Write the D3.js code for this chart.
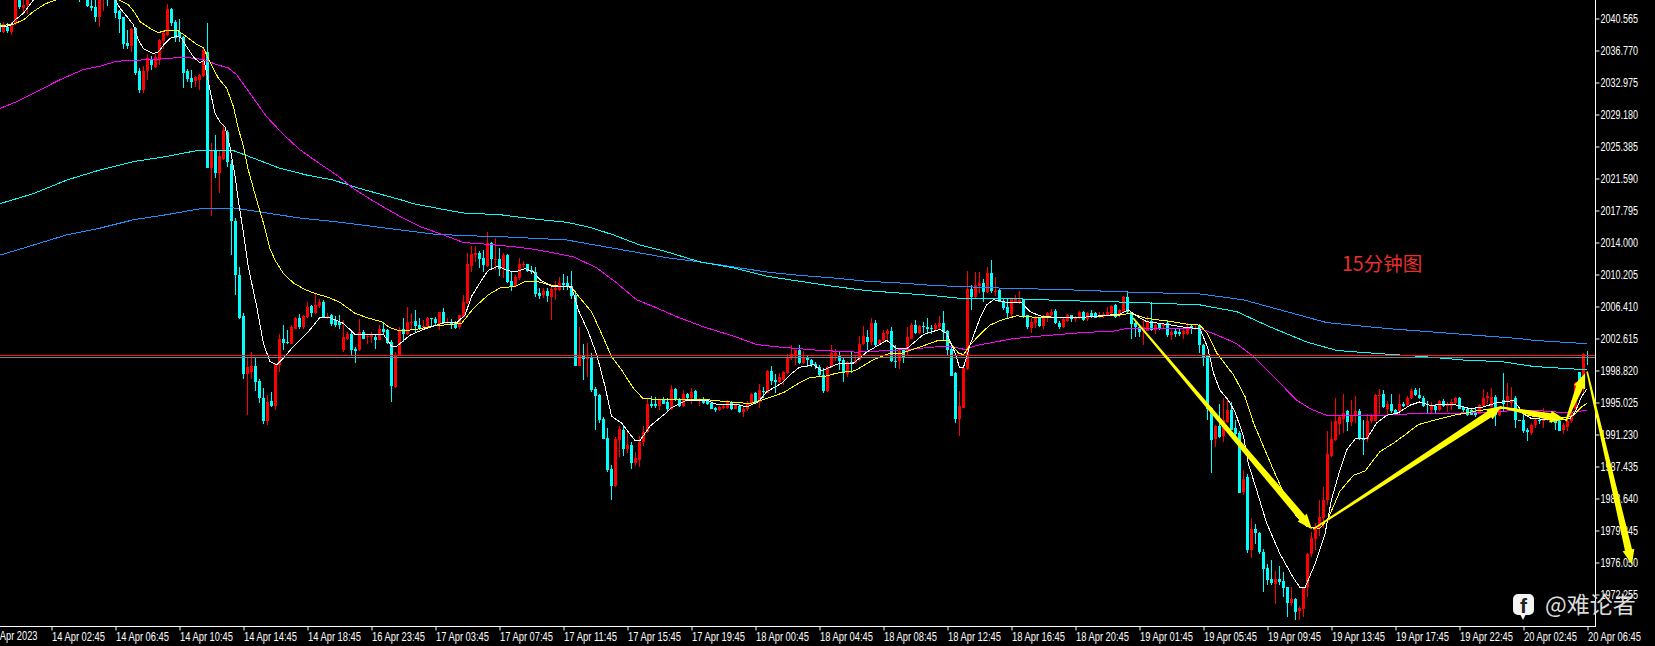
<!DOCTYPE html>
<html>
<head>
<meta charset="utf-8">
<style>
html,body{margin:0;padding:0;background:#000;overflow:hidden}
svg{display:block}
.tk text{font-family:"Liberation Sans",Arial,sans-serif;fill:#fff;font-size:12px}
</style>
<script src="https://cdn.jsdelivr.net/npm/d3@7/dist/d3.min.js"></script>
</head>
<body>
<svg id="c" width="1655" height="646"></svg>
<script>
// Each row: open, high, low, close (red = up, cyan = down)
const candlesA=[[2040.0,2040.2,2039.0,2039.0],[2039.0,2040.2,2038.9,2039.9],[2039.6,2040.0,2038.9,2039.1],[2039.0,2040.2,2038.6,2039.9],[2039.9,2043.5,2039.8,2043.4],[2043.4,2043.6,2041.7,2041.9],[2041.8,2043.0,2041.2,2042.2],[2042.2,2043.6,2041.1,2043.4],
[2043.4,2044.6,2043.2,2044.2],[2044.2,2045.4,2044.0,2045.0],[2045.0,2046.2,2044.8,2045.8],[2045.8,2046.6,2045.2,2045.4],[2045.4,2046.8,2045.2,2046.4],[2046.4,2047.0,2045.6,2045.8],[2045.8,2047.2,2045.6,2046.8],[2046.8,2047.4,2046.0,2046.2],[2046.2,2046.8,2045.2,2045.4],[2045.4,2045.8,2044.4,2044.6],[2044.6,2045.6,2044.2,2045.2],[2045.2,2045.6,2044.0,2044.2],
[2044.0,2044.5,2042.5,2043.0],[2043.6,2044.2,2043.2,2043.8],[2043.2,2043.6,2041.9,2042.0],[2042.1,2042.8,2041.5,2041.8],[2041.9,2042.9,2040.1,2040.8],[2040.8,2043.6,2039.6,2043.2],[2043.0,2044.0,2041.4,2043.6],[2043.4,2043.8,2042.0,2043.0],[2043.6,2044.0,2043.1,2043.2],[2043.0,2043.4,2040.6,2041.2],
[2041.4,2041.6,2038.9,2040.5],[2040.7,2040.8,2037.0,2037.5],[2037.7,2039.2,2037.0,2037.3],[2037.3,2039.4,2036.6,2039.3],[2039.4,2039.6,2033.9,2034.1],[2034.3,2034.7,2031.7,2032.1],[2032.1,2034.9,2031.7,2034.3],[2034.3,2036.4,2033.3,2035.9],[2035.7,2036.1,2034.5,2035.0],[2034.8,2036.3,2034.7,2036.0],
[2035.6,2038.1,2035.1,2038.0],[2037.9,2039.2,2036.9,2038.8],[2038.6,2042.3,2038.5,2041.7],[2041.7,2041.8,2039.7,2040.0],[2040.2,2040.4,2037.8,2038.3],[2039.0,2040.5,2037.8,2038.4],[2038.4,2038.5,2032.3,2034.1],[2034.3,2034.6,2033.0,2033.4],[2033.5,2034.5,2032.3,2033.0],[2033.1,2033.8,2032.4,2033.6]];
const candlesB=[[2033.3,2034.0,2032.1,2033.9],[2033.7,2037.2,2033.6,2036.8],[2036.6,2040.0,2022.8,2022.8],[2022.8,2025.8,2017.1,2024.8],[2024.8,2026.7,2021.7,2022.2],[2022.2,2024.8,2019.9,2024.2],[2023.9,2028.0,2023.8,2027.3],[2027.1,2027.3,2023.0,2023.5],[2023.3,2023.8,2012.5,2016.5],[2016.6,2016.9,2007.8,2010.1],
[2010.1,2011.1,2004.9,2005.0],[2005.3,2005.6,1997.8,1998.4],[1998.4,2000.3,1993.5,1999.2],[1998.7,2001.0,1997.8,1999.3],[1999.3,2000.4,1996.4,1997.5],[1997.6,1997.8,1995.0,1995.5],[1995.6,1996.7,1992.5,1992.8],[1992.8,1995.9,1992.4,1995.1],[1995.2,1996.3,1994.5,1994.6],[1994.6,1999.7,1994.1,1999.6],
[1999.5,2003.2,1998.6,2002.5],[2002.5,2004.2,2001.2,2002.1],[2002.2,2003.6,2002.0,2002.1],[2002.0,2004.2,2002.0,2004.0],[2003.8,2005.2,2003.8,2005.0],[2005.0,2005.5,2003.8,2004.0],[2004.0,2005.4,2003.8,2005.3],[2005.2,2007.0,2005.1,2006.3],[2006.5,2006.6,2005.2,2005.6],[2005.6,2007.9,2005.5,2006.6],
[2006.5,2007.3,2006.2,2007.0],[2007.0,2007.2,2005.1,2005.2],[2005.2,2005.6,2004.9,2005.3],[2005.4,2005.5,2004.1,2004.3],[2004.8,2005.3,2004.0,2004.2],[2004.6,2005.4,2003.8,2004.2],[2001.2,2004.8,2001.0,2002.8],[2002.6,2003.4,2002.4,2003.2],[2003.2,2003.4,2000.7,2001.3],[2001.4,2001.6,1999.7,2001.1],
[2001.2,2004.9,2001.1,2003.4],[2003.4,2003.6,2002.5,2002.6],[2002.8,2003.2,2002.0,2002.9],[2002.8,2003.4,2002.1,2003.0],[2002.8,2003.0,2001.4,2002.4],[2002.4,2004.2,2002.4,2003.8],[2003.8,2004.6,2003.2,2003.4],[2003.6,2003.8,2002.0,2002.1],[2002.2,2002.4,1995.1,1997.0],[1996.9,2001.0,1996.8,2000.7],[2000.5,2004.0,2000.5,2003.6]];
const candlesC=[[2003.7,2005.1,2002.2,2003.1],[2003.1,2006.3,2003.0,2004.6],[2004.4,2005.6,2003.6,2004.6],[2004.7,2006.0,2003.4,2004.1],[2004.2,2005.0,2003.6,2003.8],[2004.0,2004.8,2003.6,2004.1],[2004.1,2005.2,2003.9,2005.1],[2005.0,2005.1,2004.0,2004.9],[2004.9,2005.2,2004.2,2004.4],[2004.3,2005.8,2003.6,2005.8],
[2005.8,2006.2,2004.3,2004.5],[2004.4,2005.1,2004.3,2004.6],[2004.6,2004.9,2003.8,2004.3],[2004.5,2004.7,2003.8,2003.9],[2004.0,2005.4,2003.7,2005.4],[2005.2,2007.8,2005.1,2006.9],[2006.8,2012.7,2006.7,2011.4],[2011.2,2013.6,2010.5,2012.6],[2012.5,2013.6,2011.7,2012.8],[2012.8,2013.0,2011.0,2012.1],
[2012.2,2013.1,2010.5,2011.3],[2011.2,2015.2,2011.1,2013.9],[2013.9,2014.1,2011.0,2012.0],[2011.9,2014.5,2010.7,2012.1],[2012.1,2013.3,2010.0,2010.9],[2010.8,2012.8,2009.8,2012.5],[2012.5,2012.6,2009.2,2009.3],[2009.4,2010.5,2008.3,2008.8],[2008.8,2010.1,2008.8,2009.9],[2009.8,2012.2,2009.6,2011.4],
[2011.3,2011.8,2011.0,2011.5],[2011.4,2011.5,2010.5,2010.6],[2010.7,2011.2,2010.3,2010.5],[2010.5,2011.1,2007.5,2007.9],[2008.0,2008.6,2007.3,2007.7],[2007.8,2008.6,2007.4,2008.3],[2008.3,2008.6,2007.0,2007.6],[2007.5,2009.0,2004.8,2008.5],[2008.4,2009.4,2007.2,2008.6],[2008.4,2009.9,2008.3,2009.2],
[2009.2,2010.3,2008.4,2009.0],[2009.2,2010.0,2008.4,2008.9],[2008.9,2010.6,2007.3,2007.7],[2007.8,2008.0,1999.4,1999.4],[1999.3,2004.0,1999.3,2000.7],[2000.5,2002.0,1997.7,2000.2],[2000.2,2002.1,1998.1,2000.4],[2000.3,2000.9,1996.3,1996.5],[1996.6,1996.9,1991.8,1995.8],[1995.9,1996.0,1992.6,1992.9]];
const candlesD=[[1993.1,1993.3,1990.7,1990.7],[1990.8,1992.0,1986.8,1987.0],[1987.1,1987.6,1983.5,1985.1],[1985.1,1990.9,1985.0,1990.7],[1990.6,1992.2,1988.6,1991.9],[1991.8,1992.2,1988.7,1989.5],[1989.5,1991.8,1989.0,1990.0],[1990.0,1990.4,1987.1,1987.9],[1987.9,1989.2,1987.5,1988.5],[1988.2,1991.0,1987.4,1990.4],
[1990.4,1992.2,1989.9,1991.5],[1991.5,1995.5,1991.4,1994.9],[1994.9,1995.8,1994.4,1994.6],[1994.8,1995.7,1994.4,1994.6],[1994.6,1995.4,1994.1,1995.3],[1995.3,1995.7,1994.8,1994.9],[1995.1,1995.5,1993.9,1994.2],[1994.2,1997.1,1994.1,1996.6],[1996.6,1996.7,1995.2,1995.3],[1995.4,1995.5,1994.5,1994.6],
[1994.6,1996.5,1994.5,1996.0],[1996.0,1996.2,1995.3,1995.5],[1995.6,1996.7,1994.9,1996.3],[1996.4,1996.5,1995.3,1995.4],[1995.4,1995.5,1994.6,1995.4],[1995.4,1995.7,1994.9,1995.0],[1995.3,1995.4,1994.7,1994.8],[1995.0,1995.1,1994.2,1994.3],[1994.4,1994.5,1993.9,1994.1],[1994.1,1994.6,1994.0,1994.5],
[1994.4,1994.7,1994.2,1994.6],[1994.4,1995.3,1994.3,1995.2],[1995.1,1995.2,1994.1,1994.2],[1994.2,1994.8,1994.2,1994.7],[1994.6,1994.8,1993.8,1993.9],[1993.9,1994.5,1993.3,1994.3],[1994.3,1995.2,1994.0,1995.0],[1994.9,1996.1,1994.7,1996.0],[1996.1,1996.3,1994.9,1995.0],[1995.1,1997.2,1994.4,1996.5],
[1996.4,1996.9,1995.6,1996.3],[1996.2,1998.9,1996.2,1998.8],[1998.8,1999.4,1997.1,1997.6],[1997.7,1998.4,1996.1,1997.5],[1997.4,1998.5,1997.3,1998.0],[1997.7,1998.8,1997.1,1998.6],[1998.5,2000.8,1998.4,2000.3],[2000.3,2001.8,2000.1,2000.8],[2000.5,2001.3,1999.5,2001.2],[2001.2,2001.8,1999.6,1999.7]];
const candlesE=[[1999.7,2001.1,1999.6,2000.3],[2000.3,2000.5,1999.2,2000.1],[2000.1,2000.2,1999.2,1999.5],[1999.6,1999.8,1999.0,1999.3],[1999.2,1999.5,1998.2,1998.3],[1998.3,1999.1,1996.2,1996.4],[1996.4,1999.3,1996.3,1999.2],[1999.2,2001.8,1999.1,2000.9],[2000.7,2001.4,1999.9,2000.9],[2000.7,2001.0,1998.9,1999.9],
[2000.1,2000.3,1997.4,1998.5],[1998.4,1999.9,1998.1,1999.8],[1999.8,2001.1,1998.5,1999.6],[1999.7,2000.6,1999.6,2000.1],[2000.1,2002.9,2000.0,2002.0],[2002.0,2004.1,2001.8,2002.9],[2002.8,2003.6,2001.2,2002.2],[2002.2,2005.1,2001.8,2004.4],[2004.4,2004.8,2001.7,2001.8],[2002.0,2002.6,2001.8,2002.4],
[2002.4,2003.6,2002.2,2003.3],[2003.2,2003.8,2002.2,2003.5],[2003.5,2004.0,1999.8,1999.9],[2000.0,2001.8,1999.1,1999.9],[1999.9,2001.4,1999.0,2001.1],[2001.2,2001.4,1999.7,2000.4],[2001.0,2004.0,2000.5,2002.8],[2002.6,2004.4,2002.6,2004.2],[2004.2,2004.8,2003.2,2003.3],[2003.3,2004.2,2003.2,2004.1],
[2004.1,2004.6,2003.3,2004.0],[2004.0,2005.0,2003.2,2003.8],[2003.9,2004.2,2003.2,2003.8],[2003.7,2004.4,2003.6,2004.2],[2004.0,2005.3,2003.7,2004.5],[2004.5,2005.9,2002.4,2003.4],[2003.5,2003.6,2000.7,2001.2],[2001.4,2001.6,1998.2,1998.2],[1998.5,1998.7,1992.6,1993.1],[1993.1,1996.4,1991.0,1994.6],
[1994.4,1999.2,1994.4,1999.1],[1999.0,2010.6,1998.9,2008.5],[2008.5,2009.0,2006.0,2007.5],[2007.5,2010.5,2007.4,2009.0],[2008.8,2010.5,2008.0,2009.2],[2009.2,2009.7,2007.0,2008.1],[2008.1,2011.1,2008.0,2010.4],[2010.4,2011.9,2008.0,2008.2],[2008.1,2009.9,2007.7,2008.3],[2008.4,2008.6,2006.9,2007.0]];
const candlesF=[[2007.0,2007.4,2006.0,2006.2],[2006.4,2007.4,2005.1,2005.6],[2005.5,2007.3,2005.0,2007.3],[2006.9,2007.8,2006.8,2007.3],[2006.8,2008.2,2006.7,2007.2],[2007.2,2007.3,2005.0,2005.3],[2005.4,2005.4,2003.8,2004.0],[2003.9,2005.1,2003.3,2004.6],[2004.4,2005.3,2003.9,2005.1],[2005.0,2005.1,2004.0,2004.1],
[2004.1,2005.4,2003.7,2005.3],[2005.2,2005.8,2004.6,2005.6],[2005.4,2006.1,2005.0,2005.7],[2005.9,2006.1,2004.3,2004.4],[2004.5,2004.7,2003.7,2004.0],[2004.0,2005.2,2003.9,2004.9],[2004.7,2005.5,2004.6,2005.4],[2005.4,2005.4,2004.6,2004.9],[2004.9,2005.3,2004.6,2005.0],[2005.0,2005.9,2004.9,2005.8],
[2005.8,2005.9,2004.7,2004.8],[2004.9,2005.8,2004.7,2005.6],[2005.6,2006.0,2005.1,2005.3],[2005.6,2005.8,2005.0,2005.1],[2005.3,2005.7,2005.1,2005.4],[2005.3,2005.7,2005.1,2005.5],[2005.4,2006.3,2005.3,2005.8],[2005.6,2006.6,2005.4,2006.5],[2006.6,2006.7,2005.1,2005.2],[2005.3,2006.1,2005.2,2006.0],
[2005.9,2007.6,2005.8,2007.5],[2007.5,2008.2,2005.6,2005.7],[2005.7,2005.8,2002.6,2004.3],[2004.4,2004.6,2002.8,2004.0],[2004.0,2004.2,2002.8,2003.4],[2003.5,2004.8,2001.8,2004.0],[2003.5,2005.3,2003.5,2004.6],[2004.7,2006.9,2003.5,2003.6],[2003.6,2004.4,2003.2,2004.2],[2004.3,2004.5,2003.6,2003.7],
[2004.1,2004.5,2003.7,2004.3],[2004.5,2004.8,2002.8,2003.0],[2003.0,2003.6,2002.4,2003.4],[2003.5,2003.8,2002.8,2003.1],[2003.4,2003.7,2002.9,2003.2],[2003.2,2003.8,2002.6,2003.5],[2003.2,2004.4,2003.0,2003.9],[2004.1,2004.3,2003.2,2003.8],[2003.7,2004.2,2003.6,2003.9],[2004.1,2004.3,2000.9,2001.8]];
const candlesG=[[2001.8,2002.0,1999.3,2000.4],[2000.5,2000.7,1993.0,1994.3],[1994.4,1994.5,1986.7,1990.6],[1990.7,1992.4,1989.8,1992.2],[1992.2,1994.8,1990.8,1990.9],[1991.0,1995.5,1990.3,1993.0],[1992.7,1995.3,1992.6,1994.1],[1994.1,1995.1,1991.8,1991.8],[1992.0,1993.0,1990.8,1991.3],[1991.4,1991.6,1984.3,1984.3],
[1984.4,1987.0,1984.0,1986.0],[1986.2,1986.6,1977.2,1977.5],[1977.5,1981.3,1976.6,1980.0],[1980.0,1980.6,1978.3,1979.6],[1979.6,1979.7,1977.1,1977.3],[1977.3,1977.6,1972.6,1975.3],[1975.4,1975.9,1973.4,1974.0],[1974.1,1976.4,1973.4,1973.6],[1973.5,1975.0,1971.1,1974.1],[1974.1,1975.6,1973.4,1973.7],
[1973.9,1974.9,1972.0,1973.0],[1973.1,1973.2,1969.6,1971.3],[1971.2,1973.2,1970.9,1971.7],[1971.7,1971.8,1969.2,1970.2],[1970.3,1970.9,1969.2,1970.7],[1970.5,1973.2,1969.6,1973.2],[1973.1,1977.2,1972.0,1977.1],[1977.1,1979.7,1976.7,1978.9],[1978.8,1980.7,1977.5,1980.3],[1980.2,1983.5,1979.2,1981.4],
[1981.3,1985.0,1980.1,1983.5],[1983.5,1991.6,1982.9,1988.9],[1988.7,1992.8,1988.6,1990.7],[1990.6,1995.5,1990.5,1992.8],[1992.5,1993.5,1991.2,1993.3],[1993.1,1996.0,1991.4,1993.8],[1994.0,1994.1,1991.6,1992.7],[1992.7,1995.3,1992.2,1993.5],[1993.5,1995.8,1992.6,1994.0],[1994.0,1994.3,1990.6,1990.7],
[1990.8,1993.0,1988.8,1990.6],[1990.7,1993.7,1990.4,1992.8],[1992.8,1993.7,1992.6,1993.5],[1992.8,1996.0,1992.8,1995.9],[1995.8,1996.6,1993.7,1995.9],[1996.0,1996.5,1994.4,1994.5],[1994.3,1995.2,1993.7,1994.8],[1994.8,1996.0,1993.8,1994.0],[1994.1,1994.3,1993.5,1993.7],[1994.0,1996.0,1993.7,1994.9]];
const candlesH=[[1994.9,1995.1,1994.5,1994.6],[1994.7,1995.8,1994.6,1995.6],[1995.5,1996.7,1995.4,1996.4],[1996.5,1996.8,1995.8,1995.9],[1995.9,1996.8,1995.4,1995.5],[1995.6,1995.8,1994.5,1994.6],[1994.9,1995.2,1993.8,1994.7],[1994.1,1995.1,1993.7,1994.6],[1994.6,1994.8,1993.7,1994.1],[1994.1,1995.3,1994.0,1995.2],
[1995.2,1995.4,1994.5,1994.6],[1994.6,1995.1,1993.9,1994.9],[1994.6,1995.4,1994.1,1995.1],[1995.0,1995.7,1994.8,1995.6],[1995.6,1995.7,1994.2,1994.3],[1994.5,1994.6,1993.9,1994.1],[1994.2,1994.3,1993.4,1993.5],[1994.1,1994.3,1993.5,1993.6],[1993.9,1994.5,1993.3,1993.5],[1993.7,1994.8,1993.7,1994.7],
[1994.6,1996.6,1994.5,1995.6],[1995.5,1996.3,1994.8,1995.8],[1994.5,1996.7,1994.5,1995.7],[1995.7,1995.9,1992.2,1993.5],[1993.5,1994.6,1993.4,1994.2],[1995.3,1998.5,1993.9,1994.9],[1995.1,1997.3,1994.1,1995.8],[1995.0,1996.9,1994.5,1995.3],[1995.5,1995.8,1992.0,1992.9],[1992.9,1993.0,1992.8,1992.8],
[1992.9,1993.7,1991.4,1991.6],[1991.8,1992.0,1990.5,1991.5],[1991.4,1992.6,1991.2,1992.4],[1992.3,1993.1,1992.0,1992.9],[1993.0,1993.3,1992.5,1992.9],[1992.8,1994.4,1992.0,1993.1],[1993.0,1993.7,1992.8,1993.5],[1993.5,1993.7,1992.6,1992.8],[1993.4,1993.5,1991.8,1992.6],[1992.8,1992.9,1991.6,1991.7],
[1991.8,1992.6,1991.3,1992.3],[1992.1,1992.9,1991.7,1992.8],[1992.8,1995.3,1992.6,1993.8],[1994.2,1997.5,1994.1,1997.3],[1998.6,1998.7,1996.9,1997.3],[1997.1,2000.9,1995.9,2000.8],[2000.7,2001.1,1999.5,2000.5]];

// Moving averages, as [bar index, price] readings
const maWhite=[[0.1,2039.6],[2.6,2039.7],[3.9,2040.4],[6,2041.2],[7.6,2042.2],[8.5,2042.8],[12.6,2045.1],[21,2045.5],[28.9,2042.8],[30.1,2041.8],[32.2,2040.6],[33.5,2039.8],[34.7,2038.0],[36,2037.0],[38.5,2036.4],[39.7,2036.6],[41,2037.4],[42.6,2038.2],[44.3,2038.5],[45.5,2038.2],[46.8,2037.2],[48.5,2036.0],[50.1,2035.3],[51.1,2035.6],[51.8,2034.1],[52.6,2032.1],[53.9,2029.3],[55.1,2028.3],[56.4,2027.7],[57.6,2025.4],[58.9,2021.8],[59.7,2019.0],[61,2015.1],[62.2,2011.1],[64.3,2006.4],[66,2002.0],[67.6,1999.9],[69.3,1999.5],[71,2000.3],[73.5,2001.7],[76.8,2003.2],[80.1,2005.1],[82.6,2005.1],[86,2004.4],[88.9,2003.1],[96,2003.1],[98,2001.7],[99.3,2001.7],
[100.1,2002.0],[102.6,2003.0],[106,2003.7],[109.3,2004.2],[111,2004.5],[114.3,2004.5],[116.4,2005.4],[118,2007.6],[121,2009.9],[122.2,2010.7],[124.7,2011.2],[126.8,2010.7],[128.9,2010.5],[131.4,2010.9],[133.5,2010.5],[135.1,2009.6],[138,2008.8],[143,2008.8],[144.7,2006.0],[147.2,2003.4],[149.3,2000.7],[151.4,1996.9],[153,1993.4],[155.5,1992.6],[158.9,1990.5],[160.1,1990.5],[162.6,1992.2],[166.4,1993.7],[168,1994.4],[171.8,1995.3],[176.8,1995.3],[179.3,1994.8],[184.3,1994.8],[186.8,1994.5],[189.7,1995.1],[191.8,1996.3],[195.5,1997.3],[197.6,1998.3],[199.7,1999.1],
[200.1,1999.2],[203.5,1999.5],[205.5,1998.8],[207.6,1999.2],[210.1,1999.7],[213.5,1999.7],[216.8,2001.0],[221.8,2002.4],[224.3,2001.4],[226.8,2001.4],[231,2003.1],[235.1,2003.7],[236.8,2003.2],[238.9,2000.9],[240,1999.2],[241,1999.2],[242.6,2001.8],[245.1,2005.0],[246.8,2006.6],[248.5,2007.2],[250.1,2007.1],[251.8,2006.9],[255.5,2006.9],[257.6,2005.8],[260.1,2005.3],[264.3,2005.1],[270.1,2005.1],[275.1,2005.3],[280.1,2005.5],[282.2,2006.0],[284.3,2005.3],[286.8,2004.6],[291.8,2004.3],[296.8,2003.9],[300.1,2003.8],
[302,2001.6],[303.5,1998.5],[305.1,1996.5],[307.2,1995.3],[308.9,1993.9],[311,1991.0],[312.2,1987.8],[314.3,1984.6],[316.8,1980.7],[320.1,1977.1],[323.5,1974.2],[325.1,1973.1],[326.4,1973.1],[328.9,1975.9],[331.4,1979.5],[333,1983.5],[335.1,1987.0],[336.8,1989.4],[338.9,1990.7],[341.8,1990.7],[344.3,1992.6],[346.8,1993.5],[349.7,1993.8],[352.6,1994.7],[355.1,1995.1],[357.6,1994.7],[363.5,1994.8],[367.6,1994.3],[371,1994.5],[374.3,1995.0],[377.6,1995.2],[378.5,1995.3],[381,1993.7],[383,1993.1],[389.3,1993.0],[392.6,1993.1],[393.9,1993.9],[395.5,1995.7],[396.8,1996.6]];
const maYellow=[[0.1,2039.7],[3.5,2039.9],[6,2040.4],[8.5,2041.4],[11.4,2042.3],[14.3,2042.8],[18.5,2044.0],[25.1,2044.0],[29.7,2042.8],[32.2,2042.2],[33.9,2041.2],[35.1,2040.2],[37.6,2039.4],[39.7,2038.9],[41.4,2039.1],[44.7,2039.1],[46.8,2038.4],[49.3,2037.5],[51,2037.1],[52.2,2035.8],[54.7,2033.5],[56.8,2032.3],[58.5,2030.1],[59.7,2027.5],[61,2025.4],[62.2,2022.6],[64.3,2019.0],[66,2016.3],[67.6,2013.3],[68.9,2011.9],[71,2010.3],[73.5,2009.2],[76.4,2008.4],[79.3,2007.9],[82.2,2007.5],[85.1,2006.9],[88.9,2005.6],[91.8,2005.1],[95.5,2004.6],[97.6,2003.9],[100.1,2003.5],
[104.3,2003.7],[108.5,2004.1],[115.5,2004.4],[118.5,2006.2],[122.2,2007.8],[125.1,2008.6],[128.9,2008.8],[131.4,2009.4],[134.3,2009.4],[137.2,2009.0],[140.1,2008.8],[143,2008.7],[145.5,2007.2],[148,2005.8],[150.5,2003.2],[153,2000.5],[155.5,1998.9],[158.5,1996.7],[160.9,1995.5],[164.3,1995.4],[176,1995.4],[182.2,1995.1],[187.6,1994.9],[191.8,1995.5],[196,1996.2],[200.1,1997.4],
[202.6,1998.0],[206,1998.1],[209.3,1998.5],[213.9,1998.8],[218.5,2000.1],[222.2,2000.8],[225.1,2000.8],[230.1,2001.6],[234.7,2002.4],[237.2,2002.4],[239.7,2000.9],[241,2000.7],[242.6,2001.8],[245.1,2003.1],[247.6,2004.2],[250.5,2004.8],[254.3,2005.3],[260.1,2005.1],[269.3,2005.1],[280.1,2005.4],[282.6,2005.6],[286.8,2005.0],[291.8,2004.7],[297.2,2004.3],[300.1,2004.2],
[302,2003.2],[304.3,2000.9],[308.5,1998.3],[311.4,1995.7],[313.5,1992.6],[316,1989.8],[318.5,1987.0],[321.8,1983.5],[324.3,1981.5],[326.8,1980.3],[330.1,1980.1],[332.2,1981.3],[335.1,1984.5],[338.5,1986.4],[341.4,1986.9],[345.1,1989.2],[348.5,1990.2],[351.4,1991.2],[354.7,1992.4],[358.5,1992.9],[363.5,1993.5],[370.1,1994.1],[375.1,1994.3],[378.9,1994.3],[381.8,1993.5],[385.1,1993.3],[391.8,1993.3],[393.5,1993.5],[395.5,1994.5],[396.8,1994.9]];
const maMagenta=[[0.1,2029.9],[4.3,2030.7],[8.5,2031.7],[15.1,2033.3],[20.9,2034.5],[25.1,2034.9],[29.3,2035.5],[33.5,2035.6],[41.8,2035.8],[45.9,2036.0],[51,2035.7],[54.3,2035.1],[57.2,2034.7],[59.3,2033.9],[62.6,2031.7],[66.8,2028.9],[71,2026.8],[75.1,2025.0],[79.3,2023.6],[84.3,2022.0],[88.5,2020.4],[93.5,2018.9],[96.8,2018.0],[100.1,2017.1],[105.1,2015.9],[111,2014.9],[116,2014.0],[121.8,2013.8],[128.5,2013.5],[133.5,2013.2],[139.3,2012.7],[143.5,2012.3],[149.3,2011.0],[154.3,2009.2],[159.3,2007.2],[163.5,2006.4],[169.3,2005.2],[176,2004.0],[183.5,2002.9],[189.3,2001.9],[195.1,2001.6],[200.1,2001.4],[205.1,2001.2],[214.3,2001.0],[226.8,2001.3],[233.5,2001.6],[237.6,2001.7],[241.4,2001.3],[244.3,2001.8],[253.5,2002.6],[260.1,2002.9],[270.1,2003.3],[278.5,2003.5],[281.8,2003.8],[300.1,2003.8],[303.5,2003.2],[308.9,2002.1],[313.5,2000.5],[318.5,1998.1],[324.3,1995.3],[327.6,1994.3],[331.8,1993.5],[345.1,1993.5],[353.5,1993.7],[368.5,1993.8],[380.1,1994.1],[383.5,1994.1],[391.8,1993.8],[396.8,1994.1]];
const maCyan=[[0.1,2018.6],[8.5,2019.8],[16.8,2021.4],[25.1,2022.6],[33.5,2023.6],[41.8,2024.2],[49.3,2024.9],[58.5,2024.9],[63.5,2024.0],[70.1,2022.8],[76.8,2022.0],[83.5,2021.4],[90.1,2020.4],[100.1,2019.1],[103.5,2018.6],[110.1,2018.0],[116,2017.5],[125.1,2017.3],[133.5,2016.8],[141.8,2016.4],[147.6,2015.8],[153.5,2014.9],[160.1,2013.7],[166.8,2012.9],[175.1,2011.7],[183.5,2011.0],[191.8,2010.0],[200.1,2009.4],[208.5,2008.8],[216.8,2008.3],[225.1,2008.0],[233.5,2007.7],[239.7,2007.4],[250.1,2007.4],[266.8,2007.1],[283.5,2006.9],[300.1,2006.6],[309.3,2005.8],[317.6,2004.0],[326.8,2002.2],[334.3,2001.2],[342.6,2000.9],[355.1,2000.5],[367.6,2000.0],[375.1,1999.9],[383.5,1999.3],[396.8,1998.9]];
const maBlue=[[0.1,2012.5],[8.5,2013.7],[16.8,2014.9],[25.1,2015.7],[33.5,2016.7],[41.8,2017.3],[50.1,2018.0],[58.5,2018.1],[66.8,2017.5],[75.1,2016.9],[83.5,2016.5],[91.8,2016.0],[100.1,2015.5],[108.5,2015.0],[116.8,2014.8],[125.1,2014.7],[133.5,2014.5],[141.8,2014.3],[150.1,2013.6],[158.5,2012.9],[166.8,2012.2],[175.1,2011.7],[183.5,2011.1],[191.8,2010.5],[200.1,2010.1],[208.5,2009.8],[216.8,2009.4],[225.1,2009.2],[233.5,2008.9],[250.1,2008.6],[266.8,2008.4],[283.5,2008.1],[300.1,2007.9],[311,2007.2],[321.8,2005.8],[331.8,2004.5],[346.8,2003.8],[363.5,2003.2],[380.1,2002.6],[383.5,2002.4],[396.8,2002.0]];

const priceLineRed=2000.6, priceLineGray=2000.4;
const arrowStarts=[[283.4,2005.05],[328.4,1980.0],[375.1,1994.5],[391.6,1992.8],[396.9,1998.7]];
const arrowTips=[[328.1,1980.0],[375.6,1994.6],[391.4,1993.0],[396.4,1998.5],[408.1,1975.8]];
const priceTicks=[2040.565,2036.770,2032.975,2029.180,2025.385,2021.590,2017.795,2014.000,2010.205,2006.410,2002.615,1998.820,1995.025,1991.230,1987.435,1983.640,1979.845,1976.050,1972.255];
const timeLabels=["14 Apr 02:45","14 Apr 06:45","14 Apr 10:45","14 Apr 14:45","14 Apr 18:45","16 Apr 23:45","17 Apr 03:45","17 Apr 07:45","17 Apr 11:45","17 Apr 15:45","17 Apr 19:45","18 Apr 00:45","18 Apr 04:45","18 Apr 08:45","18 Apr 12:45","18 Apr 16:45","18 Apr 20:45","19 Apr 01:45","19 Apr 05:45","19 Apr 09:45","19 Apr 13:45","19 Apr 17:45","19 Apr 22:45","20 Apr 02:45","20 Apr 06:45"];
const timeTicks=timeLabels.map((_,k)=>13+16*k);
const firstLabel="13 Apr 2023", chartNote="15分钟图", watermark="@难论者";

const candles=[...candlesA,...candlesB,...candlesC,...candlesD,...candlesE,...candlesF,...candlesG,...candlesH];
const svg=d3.select("#c");
const W=1655,H=646,plotR=1595,plotB=626;
const x=d3.scaleLinear().domain([0,397]).range([-0.5,1587.5]);
const y=d3.scaleLinear().domain([2042.76,1972.255]).range([0,594.5]);

svg.append("rect").attr("width",W).attr("height",H).attr("fill","#000");
svg.append("defs").append("clipPath").attr("id","plot").append("rect").attr("width",plotR).attr("height",plotB);
const plot=svg.append("g").attr("clip-path","url(#plot)").attr("shape-rendering","crispEdges");
const color=d=>d[3]>=d[0]?"#ff0000":"#00ffff";
const g=plot.selectAll("g.cd").data(candles).join("g").attr("class","cd").attr("fill",color);
g.append("rect").attr("x",(d,i)=>x(i)-0.5).attr("width",1).attr("y",d=>y(d[1])).attr("height",d=>Math.max(1,y(d[2])-y(d[1])));
g.append("rect").attr("x",(d,i)=>x(i)-1.5).attr("width",3).attr("y",d=>y(Math.max(d[0],d[3]))).attr("height",d=>Math.max(1,Math.abs(y(d[0])-y(d[3]))));

const line=d3.line().x(d=>x(d[0])).y(d=>y(d[1]));
[[maBlue,"#1e90ff"],[maCyan,"#00ffff"],[maMagenta,"#ff00ff"],[maYellow,"#ffff00"],[maWhite,"#ffffff"]].forEach(([s,c])=>{
  plot.append("path").attr("d",line(s)).attr("fill","none").attr("stroke",c).attr("stroke-width",1);
});
plot.append("line").attr("x1",0).attr("x2",plotR).attr("y1",y(priceLineGray)+0.3).attr("y2",y(priceLineGray)+0.3).attr("stroke","#808080");
plot.append("line").attr("x1",0).attr("x2",plotR).attr("y1",y(priceLineRed)).attr("y2",y(priceLineRed)).attr("stroke","#ff1414");

// axes
const yAxis=d3.axisRight(y).tickValues(priceTicks).tickFormat(d3.format(".3f")).tickSize(4).tickPadding(1);
const ya=svg.append("g").attr("class","tk").attr("transform",`translate(${plotR+0.5},0)`).call(yAxis);
ya.select(".domain").remove();
ya.selectAll("line").attr("stroke","#fff");
ya.selectAll("text").attr("textLength",37.5).attr("lengthAdjust","spacingAndGlyphs");
const xAxis=d3.axisBottom(x).tickValues(timeTicks).tickFormat((d,i)=>timeLabels[i]).tickSize(4).tickPadding(2);
const xa=svg.append("g").attr("class","tk").attr("transform",`translate(0,${plotB+0.5})`).call(xAxis);
xa.select(".domain").remove();
xa.selectAll("line").attr("stroke","#fff");
xa.selectAll("text").attr("text-anchor","start").attr("textLength",53).attr("lengthAdjust","spacingAndGlyphs");
svg.append("text").attr("x",x(-3)).attr("y",639.5).attr("fill","#fff").style("font-family","'Liberation Sans',Arial,sans-serif").style("font-size","12px").attr("textLength",50).attr("lengthAdjust","spacingAndGlyphs").text(firstLabel);
svg.append("line").attr("x1",0).attr("x2",plotR+0.5).attr("y1",plotB+0.5).attr("y2",plotB+0.5).attr("stroke","#fff");
svg.append("line").attr("x1",plotR+0.5).attr("x2",plotR+0.5).attr("y1",0).attr("y2",plotB+1).attr("stroke","#fff");

// arrows
arrowStarts.forEach((s,i)=>{
  const t=arrowTips[i];
  const ax=x(s[0]),ay=y(s[1]),bx=x(t[0]),by=y(t[1]);
  const L=Math.hypot(bx-ax,by-ay),ux=(bx-ax)/L,uy=(by-ay)/L,nx=-uy,ny=ux;
  const headL=Math.min(15,L*0.4),headW=6,w0=0.8,w1=3.6;
  const cx=bx-ux*headL,cy=by-uy*headL;
  const p=[[ax+nx*w0,ay+ny*w0],[cx+nx*w1,cy+ny*w1],[cx+nx*headW,cy+ny*headW],[bx,by],[cx-nx*headW,cy-ny*headW],[cx-nx*w1,cy-ny*w1],[ax-nx*w0,ay-ny*w0]];
  svg.append("polygon").attr("points",p.map(q=>q.join(",")).join(" ")).attr("fill","#ffff00");
});

// note and watermark
svg.append("text").attr("x",1342).attr("y",271).attr("fill","#e8302c").style("font-family","'Noto Sans CJK SC','Noto Sans',sans-serif").style("font-size","19.5px").text(chartNote);
const wm=svg.append("g");
wm.append("rect").attr("x",1513).attr("y",594).attr("width",21).attr("height",21).attr("rx",5).attr("fill","#f4f4f4");
wm.append("path").attr("d","M1520 614 l3 6 l3 -6 z").attr("fill","#f4f4f4");
wm.append("text").attr("x",1520).attr("y",613).attr("fill","#222").style("font-family","'Liberation Sans',sans-serif").style("font-weight","bold").style("font-size","21px").text("f");
wm.append("text").attr("x",1545).attr("y",613).attr("fill","#dcdcdc").style("font-family","'Noto Sans CJK SC','Noto Sans',sans-serif").style("font-size","23px").text(watermark);
</script>
</body>
</html>
